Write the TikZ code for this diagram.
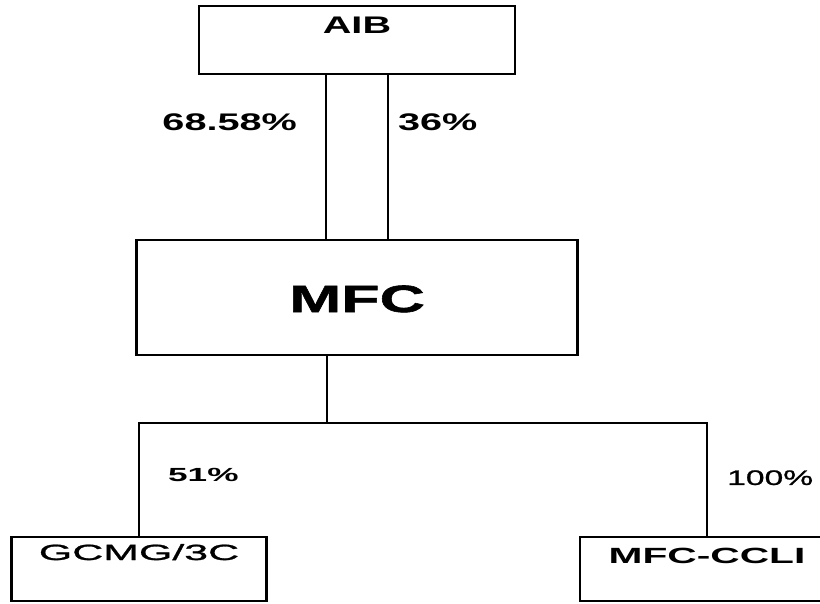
\documentclass[tikz,border=0pt]{standalone}
\usepackage{fontspec}
\usepackage{tikz}
\usetikzlibrary{positioning, calc}
\newfontfamily\widefont{Liberation Sans}[FakeStretch=1.65]
\newfontfamily\widerfont{Liberation Sans}[FakeStretch=1.85]
\newfontfamily\widemidfont{Liberation Sans}[FakeStretch=1.6, FakeBold=1.2]
\newfontfamily\widestfont{Liberation Sans}[FakeStretch=1.95, FakeBold=1.2]
\newfontfamily\heavyfont{Liberation Sans}[FakeStretch=1.65, FakeBold=1.5]
\tikzset{
    orgchart/.style={x=1pt, y=-1pt, line width=2.4pt},
    orgbox/.style={draw, rectangle, inner xsep=0pt, inner ysep=0pt, outer sep=0pt},
    % share labels next to the ownership lines
    toppct/.style={inner sep=0pt, font=\widefont\bfseries\fontsize{24}{24}\selectfont},
    lowpct/.style={inner sep=0pt, font=\widerfont\bfseries\fontsize{19}{19}\selectfont},
    lowpctthin/.style={inner sep=0pt, font=\widemidfont\fontsize{21}{21}\selectfont},
}
\begin{document}
\begin{tikzpicture}[orgchart]
    \useasboundingbox (0,0) rectangle (820,603);
    \clip (0,0) rectangle (820,603);

    \node[orgbox, minimum width=316pt, text height=27pt, text depth=41pt,
          font=\widefont\bfseries\fontsize{24}{24}\selectfont]              (aib)  at (357,40) {AIB};
    \node[orgbox, below=166pt of aib, minimum width=441pt, text height=72pt, text depth=43pt,
          font=\heavyfont\bfseries\fontsize{38}{38}\selectfont]             (mfc)  {MFC};
    \node[orgbox, below=182pt of mfc, xshift=-218pt, minimum width=255pt, text height=23pt, text depth=41pt,
          font=\widestfont\fontsize{22}{22}\selectfont]                     (gcmg) {GCMG/3C};
    \node[orgbox, below=182pt of mfc, xshift=350pt, minimum width=254pt, text height=26pt, text depth=38pt,
          font=\widerfont\bfseries\fontsize{22}{22}\selectfont]             (ccli) {MFC-CCLI};

    % AIB holds MFC
    \coordinate (aibl) at ([xshift=-31pt]aib.south);
    \coordinate (aibr) at ([xshift=31pt]aib.south);
    \draw (aibl) -- node[toppct, pos=0.29, left=28pt] {68.58\%} (aibl |- mfc.north);
    \draw (aibr) -- node[toppct, pos=0.29, right=9pt] {36\%} (aibr |- mfc.north);

    % MFC subsidiaries
    \coordinate (fork) at ($(mfc.south)+(-30,68)$);
    \draw ([xshift=-30pt]mfc.south) -- (fork);
    \draw (gcmg.north) |- node[lowpct, pos=0.27, right=28pt] {51\%} (fork)
                       -| node[lowpctthin, pos=0.74, right=19pt] {100\%} (ccli.north);
\end{tikzpicture}
\end{document}
